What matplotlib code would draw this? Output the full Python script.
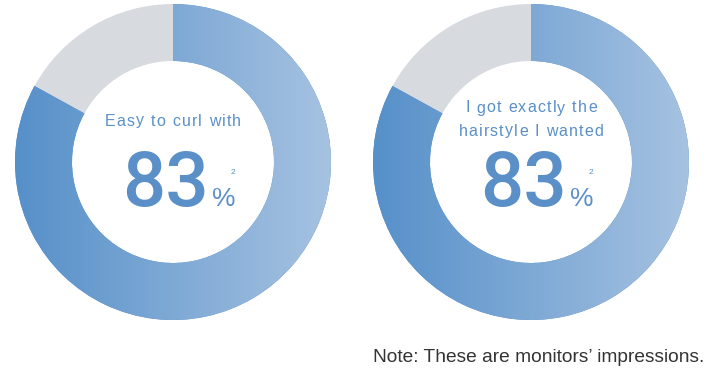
import numpy as np
import matplotlib.pyplot as plt
from matplotlib.colors import LinearSegmentedColormap
from matplotlib.font_manager import FontProperties

# Donut data
labels = ["Easy to curl with", "I got exactly the\nhairstyle I wanted"]
values = [83, 83]
note = "Note: These are monitors\u2019 impressions."

blue_dark = "#5690c9"
blue_light = "#a6c2e1"
gray = "#d7dbe0"
text_blue = "#5a8fc8"

W, H = 706, 371
fig = plt.figure(figsize=(W / 100, H / 100), dpi=100)
ax = fig.add_axes([0, 0, 1, 1])
ax.set_xlim(0, W)
ax.set_ylim(0, H)
renderer = fig.canvas.get_renderer()

cmap = LinearSegmentedColormap.from_list("blues", [blue_dark, blue_light])
grad = np.linspace(0, 1, 256).reshape(1, -1)

label_font = FontProperties(family="Liberation Sans", size=11.5)
big_font = FontProperties(family="Roboto", weight="medium", size=55)


def spaced_text(x, y, s, fp, track, color):
    # draw a line of text with extra letter spacing, centred on x
    widths = [renderer.get_text_width_height_descent(c, fp, ismath=False)[0] for c in s]
    total = sum(widths) + track * (len(s) - 1)
    pos = x - total / 2
    for c, w in zip(s, widths):
        ax.text(pos, y, c, ha="left", va="center", fontproperties=fp,
                color=color, zorder=3)
        pos += w + track


centers = [(173, H - 162), (531, H - 162)]
r_out, ring = 158, 57

for (cx, cy), lab, v in zip(centers, labels, values):
    wedges, _ = ax.pie([v, 100 - v], colors=[blue_dark, gray], startangle=90,
                       counterclock=False, center=(cx, cy), radius=r_out,
                       wedgeprops=dict(width=ring, linewidth=0))
    im = ax.imshow(grad, cmap=cmap, aspect="auto",
                   extent=(cx - r_out, cx + r_out, cy - r_out, cy + r_out), zorder=2)
    im.set_clip_path(wedges[0])

    lines = lab.split("\n")
    ys = [H - 121] if len(lines) == 1 else [H - 108, H - 131]
    for ln, y in zip(lines, ys):
        spaced_text(cx, y, ln, label_font, 1.2, text_blue)

    ax.text(cx + 36, H - 206, f"{v}", ha="right", va="baseline",
            fontproperties=big_font, color=text_blue, zorder=3)
    ax.text(cx + 39, H - 206, "%", ha="left", va="baseline", fontsize=19,
            color=text_blue, family="Liberation Sans", zorder=3)
    ax.text(cx + 58, H - 172, "2", ha="left", va="center", fontsize=6,
            color=text_blue, family="Liberation Sans", zorder=3)

ax.text(W - 2, H - 357, note, ha="right", va="center", fontsize=13.8,
        color="#333333", family="Liberation Sans")

ax.set_xlim(0, W)
ax.set_ylim(0, H)
ax.set_aspect("auto")
ax.axis("off")

fig.savefig("out.png", dpi=100, facecolor="white")
